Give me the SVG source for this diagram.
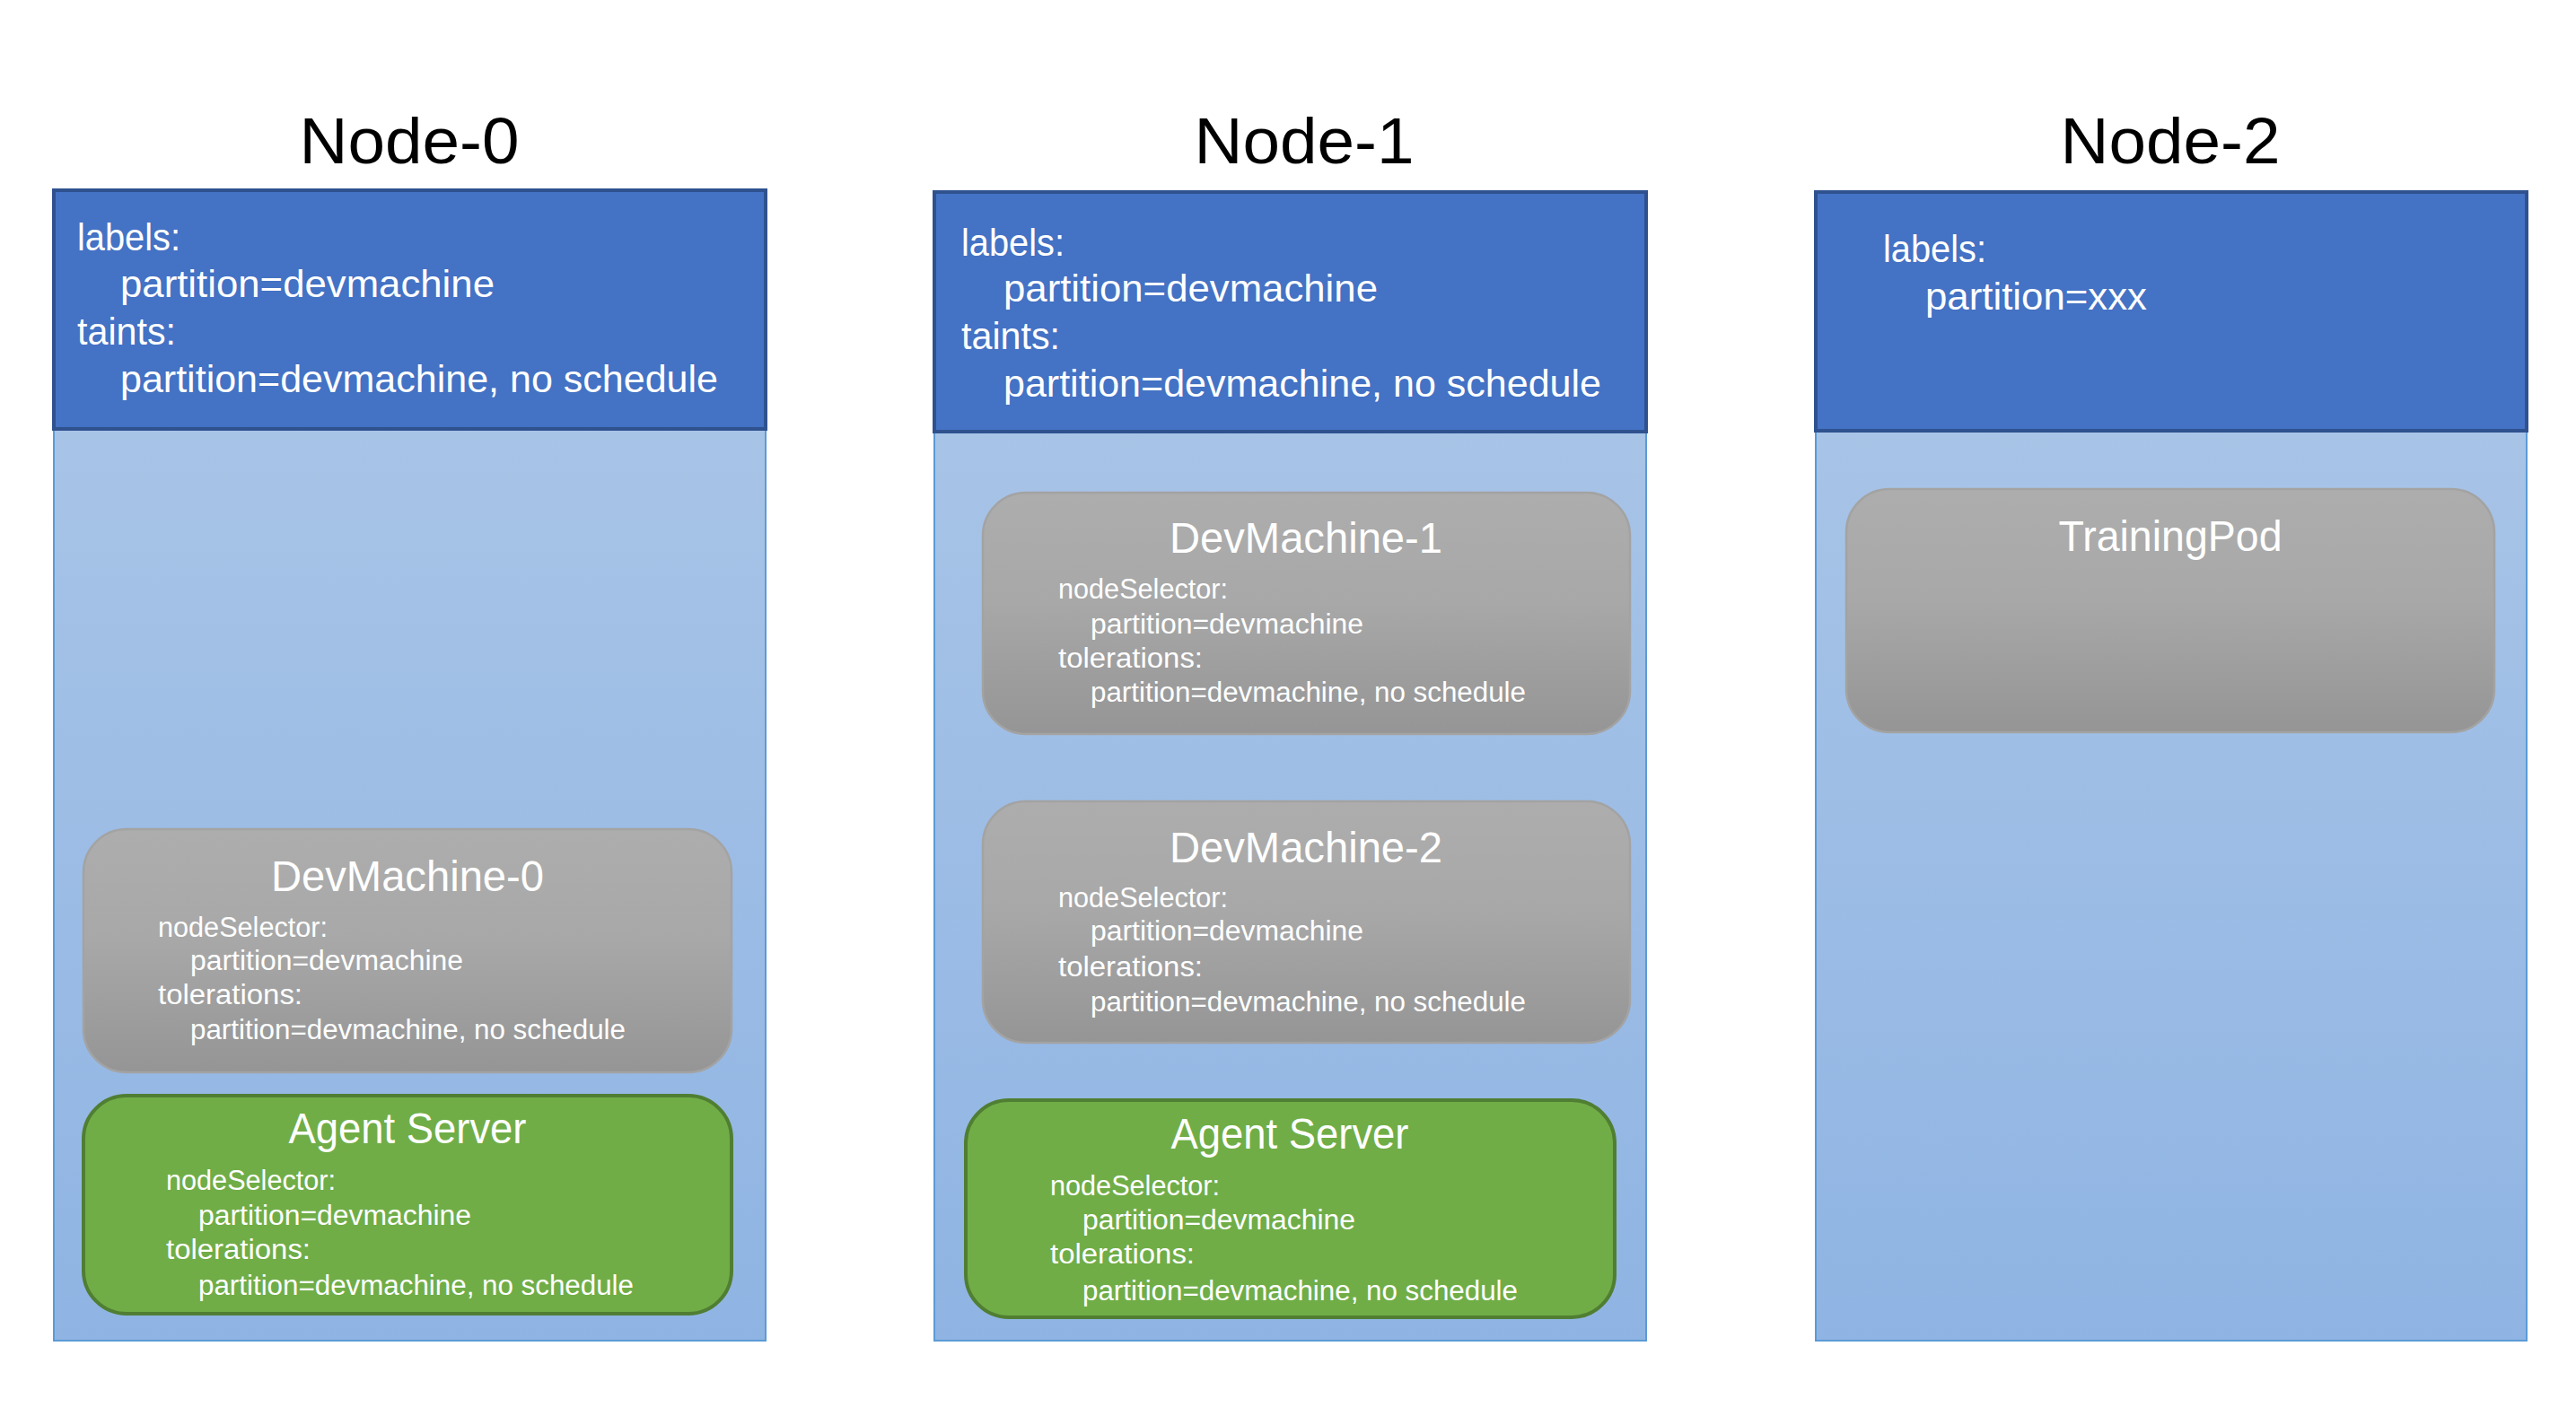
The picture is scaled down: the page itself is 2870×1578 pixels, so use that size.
<svg xmlns="http://www.w3.org/2000/svg" width="2870" height="1578" viewBox="0 0 2870 1578">
<defs>
<linearGradient id="gBody" x1="0" y1="0" x2="0" y2="1">
<stop offset="0" stop-color="#AEC8E8"/>
<stop offset="1" stop-color="#8FB4E3"/>
</linearGradient>
<linearGradient id="gGray" x1="0" y1="0" x2="0" y2="1">
<stop offset="0" stop-color="#ADADAD"/>
<stop offset="0.45" stop-color="#A8A8A8"/>
<stop offset="1" stop-color="#959595"/>
</linearGradient>
<style>
.body{fill:url(#gBody);stroke:#5B9BD5;stroke-width:2}
.head{fill:#4472C4;stroke:#2F528F;stroke-width:4}
.gray{fill:url(#gGray);stroke:#A3A3A3;stroke-width:2.5}
.green{fill:#70AD47;stroke:#507E32;stroke-width:4}
text{font-family:"Liberation Sans","Noto Sans",sans-serif;fill:#fff}
.ntitle{font-size:72px;fill:#000;text-anchor:middle}
.h{font-size:42px}
.t{font-size:48px;text-anchor:middle}
.s{font-size:31px}
</style>
</defs>
<g id="connectors"/>

<g id="node-0">
<text class="ntitle" x="456" y="182" textLength="245" lengthAdjust="spacingAndGlyphs">Node-0</text>
<rect class="body" x="60" y="212" width="793" height="1282"/>
<rect class="head" x="60" y="212" width="793" height="266"/>
<text class="h" x="86" y="279" textLength="115" lengthAdjust="spacingAndGlyphs">labels:</text>
<text class="h" x="134" y="331" textLength="417" lengthAdjust="spacingAndGlyphs">partition=devmachine</text>
<text class="h" x="86" y="384" textLength="110" lengthAdjust="spacingAndGlyphs">taints:</text>
<text class="h" x="134" y="437" textLength="666" lengthAdjust="spacingAndGlyphs">partition=devmachine, no schedule</text>
</g>

<g id="devmachine-0">
<rect class="gray" x="93" y="924" width="722" height="271" rx="48"/>
<text class="t" x="454" y="993" textLength="304" lengthAdjust="spacingAndGlyphs">DevMachine-0</text>
<text class="s" x="176" y="1044" textLength="189" lengthAdjust="spacingAndGlyphs">nodeSelector:</text>
<text class="s" x="212" y="1081" textLength="304" lengthAdjust="spacingAndGlyphs">partition=devmachine</text>
<text class="s" x="176" y="1119" textLength="161" lengthAdjust="spacingAndGlyphs">tolerations:</text>
<text class="s" x="212" y="1158" textLength="485" lengthAdjust="spacingAndGlyphs">partition=devmachine, no schedule</text>
</g>

<g id="agent-server-0">
<rect class="green" x="93" y="1221" width="722" height="243" rx="48"/>
<text class="t" x="454" y="1274" textLength="265" lengthAdjust="spacingAndGlyphs">Agent Server</text>
<text class="s" x="185" y="1326" textLength="189" lengthAdjust="spacingAndGlyphs">nodeSelector:</text>
<text class="s" x="221" y="1365" textLength="304" lengthAdjust="spacingAndGlyphs">partition=devmachine</text>
<text class="s" x="185" y="1403" textLength="161" lengthAdjust="spacingAndGlyphs">tolerations:</text>
<text class="s" x="221" y="1443" textLength="485" lengthAdjust="spacingAndGlyphs">partition=devmachine, no schedule</text>
</g>

<g id="node-1">
<text class="ntitle" x="1453" y="182" textLength="245" lengthAdjust="spacingAndGlyphs">Node-1</text>
<rect class="body" x="1041" y="214" width="793" height="1280"/>
<rect class="head" x="1041" y="214" width="793" height="267"/>
<text class="h" x="1071" y="285" textLength="115" lengthAdjust="spacingAndGlyphs">labels:</text>
<text class="h" x="1118" y="336" textLength="417" lengthAdjust="spacingAndGlyphs">partition=devmachine</text>
<text class="h" x="1071" y="389" textLength="110" lengthAdjust="spacingAndGlyphs">taints:</text>
<text class="h" x="1118" y="442" textLength="666" lengthAdjust="spacingAndGlyphs">partition=devmachine, no schedule</text>
</g>

<g id="devmachine-1">
<rect class="gray" x="1095" y="549" width="721" height="269" rx="48"/>
<text class="t" x="1455" y="616" textLength="304" lengthAdjust="spacingAndGlyphs">DevMachine-1</text>
<text class="s" x="1179" y="667" textLength="189" lengthAdjust="spacingAndGlyphs">nodeSelector:</text>
<text class="s" x="1215" y="706" textLength="304" lengthAdjust="spacingAndGlyphs">partition=devmachine</text>
<text class="s" x="1179" y="744" textLength="161" lengthAdjust="spacingAndGlyphs">tolerations:</text>
<text class="s" x="1215" y="782" textLength="485" lengthAdjust="spacingAndGlyphs">partition=devmachine, no schedule</text>
</g>

<g id="devmachine-2">
<rect class="gray" x="1095" y="893" width="721" height="269" rx="48"/>
<text class="t" x="1455" y="961" textLength="304" lengthAdjust="spacingAndGlyphs">DevMachine-2</text>
<text class="s" x="1179" y="1011" textLength="189" lengthAdjust="spacingAndGlyphs">nodeSelector:</text>
<text class="s" x="1215" y="1048" textLength="304" lengthAdjust="spacingAndGlyphs">partition=devmachine</text>
<text class="s" x="1179" y="1088" textLength="161" lengthAdjust="spacingAndGlyphs">tolerations:</text>
<text class="s" x="1215" y="1127" textLength="485" lengthAdjust="spacingAndGlyphs">partition=devmachine, no schedule</text>
</g>

<g id="agent-server-1">
<rect class="green" x="1076" y="1226" width="723" height="242" rx="48"/>
<text class="t" x="1437" y="1280" textLength="265" lengthAdjust="spacingAndGlyphs">Agent Server</text>
<text class="s" x="1170" y="1332" textLength="189" lengthAdjust="spacingAndGlyphs">nodeSelector:</text>
<text class="s" x="1206" y="1370" textLength="304" lengthAdjust="spacingAndGlyphs">partition=devmachine</text>
<text class="s" x="1170" y="1408" textLength="161" lengthAdjust="spacingAndGlyphs">tolerations:</text>
<text class="s" x="1206" y="1449" textLength="485" lengthAdjust="spacingAndGlyphs">partition=devmachine, no schedule</text>
</g>

<g id="node-2">
<text class="ntitle" x="2418" y="182" textLength="245" lengthAdjust="spacingAndGlyphs">Node-2</text>
<rect class="body" x="2023" y="214" width="792" height="1280"/>
<rect class="head" x="2023" y="214" width="792" height="266"/>
<text class="h" x="2098" y="292" textLength="115" lengthAdjust="spacingAndGlyphs">labels:</text>
<text class="h" x="2145" y="345" textLength="247" lengthAdjust="spacingAndGlyphs">partition=xxx</text>
</g>

<g id="training-pod">
<rect class="gray" x="2057" y="545" width="722" height="271" rx="48"/>
<text class="t" x="2418" y="614" textLength="249" lengthAdjust="spacingAndGlyphs">TrainingPod</text>
</g>
</svg>
